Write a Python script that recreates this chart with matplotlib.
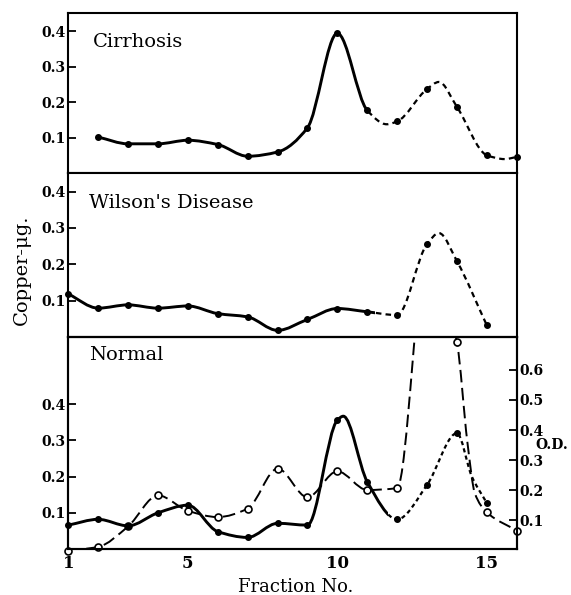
import numpy as np
import matplotlib
matplotlib.use('Agg')
import matplotlib.pyplot as plt
from matplotlib.path import Path
from matplotlib.patches import PathPatch, Rectangle

plt.rcParams['lines.scale_dashes'] = False
plt.rcParams['font.family'] = ['DejaVu Serif']

# ---------------- data ----------------
# Cirrhosis (copper, ug)
cirr_frac = [2, 3, 4, 5, 6, 7, 8, 9, 10, 11, 12, 13, 14, 15, 16]
cirr_cu = [0.102, 0.083, 0.083, 0.093, 0.081, 0.048, 0.060, 0.128, 0.394,
           0.177, 0.146, 0.237, 0.187, 0.051, 0.046]
# unmarked turning points of the drawn curve
cirr_curve_frac = [11.65, 13.4, 15.6]
cirr_curve_cu = [0.138, 0.257, 0.040]

# Wilson's disease (copper, ug)
wil_frac = [1, 2, 3, 4, 5, 6, 7, 8, 9, 10, 11, 12, 13, 14, 15]
wil_cu = [0.119, 0.080, 0.089, 0.080, 0.086, 0.065, 0.056, 0.019, 0.049,
          0.079, 0.070, 0.061, 0.256, 0.209, 0.033]
wil_curve_frac = [13.4]
wil_curve_cu = [0.286]

# Normal (copper, ug)
nor_frac = [1, 2, 3, 4, 5, 6, 7, 8, 9, 10, 11, 12, 13, 14, 15]
nor_cu = [0.066, 0.082, 0.064, 0.100, 0.121, 0.048, 0.032, 0.071, 0.066,
          0.356, 0.186, 0.082, 0.177, 0.320, 0.127]
nor_curve_frac = [10.2, 14.5]
nor_curve_cu = [0.367, 0.200]

# Normal (optical density)
od_frac = [1, 2, 3, 4, 5, 6, 7, 8, 9, 10, 11, 12, 14, 15, 16]
od_val = [0.000, 0.012, 0.080, 0.183, 0.132, 0.111, 0.139, 0.272, 0.177,
          0.263, 0.201, 0.207, 0.692, 0.127, 0.066]
od_curve_frac = [13.0, 14.35, 14.6]      # 13.0 is off scale (curve leaves the top)
od_curve_val = [1.0, 0.36, 0.19]

cu_ticks = [0.1, 0.2, 0.3, 0.4]
cu_tick_labels = ['0.1', '0.2', '0.3', '0.4']
od_ticks = [0.1, 0.2, 0.3, 0.4, 0.5, 0.6]
od_tick_labels = ['0.1', '0.2', '0.3', '0.4', '0.5', '0.6']
x_ticks = [1, 5, 10, 15]
x_tick_labels = ['1', '5', '10', '15']
panel_names = ['Cirrhosis', "Wilson's Disease", 'Normal']


# ---------------- helpers ----------------
def smooth_path(xs, ys):
    """Monotone cubic (Bezier) path through the given vertices."""
    order = np.argsort(xs)
    x = np.asarray(xs, float)[order]
    y = np.asarray(ys, float)[order]
    h = np.diff(x)
    d = np.diff(y) / h
    n = len(x)
    m = np.zeros(n)
    m[0] = d[0]
    m[-1] = d[-1]
    for i in range(1, n - 1):
        if d[i - 1] * d[i] <= 0:
            m[i] = 0.0
        else:
            w1 = 2 * h[i] + h[i - 1]
            w2 = h[i] + 2 * h[i - 1]
            m[i] = (w1 + w2) / (w1 / d[i - 1] + w2 / d[i])
    verts = [(x[0], y[0])]
    codes = [Path.MOVETO]
    for i in range(n - 1):
        verts += [(x[i] + h[i] / 3, y[i] + m[i] * h[i] / 3),
                  (x[i + 1] - h[i] / 3, y[i + 1] - m[i + 1] * h[i] / 3),
                  (x[i + 1], y[i + 1])]
        codes += [Path.CURVE4] * 3
    return Path(verts, codes)


def draw_curve(ax, path, xmin, xmax, lw, ls):
    patch = PathPatch(path, fill=False, lw=lw, ls=ls, edgecolor='black',
                      capstyle='butt', joinstyle='round', zorder=2)
    ax.add_patch(patch)
    x0, x1 = ax.get_xlim()
    y0, y1 = ax.get_ylim()
    xmin = max(xmin, x0)
    xmax = min(xmax, x1)
    clip = Rectangle((xmin, y0), xmax - xmin, y1 - y0, transform=ax.transData)
    patch.set_clip_path(clip)


SOLID_LW = 2.1
DASH = (0, (4.0, 3.0))
DOT = (0, (3.0, 2.4))
LONG = (0, (9.0, 4.0))

fig = plt.figure(figsize=(5.71, 5.95), dpi=100)
left, width = 0.1196, 0.7853
ax1 = fig.add_axes([left, 0.7087, width, 0.2689])
ax2 = fig.add_axes([left, 0.4331, width, 0.2756])
ax3 = fig.add_axes([left, 0.0773, width, 0.3558])

for ax in (ax1, ax2, ax3):
    ax.set_xlim(1, 16)
    for sp in ax.spines.values():
        sp.set_linewidth(1.5)
    ax.set_yticks(cu_ticks)
    ax.set_yticklabels(cu_tick_labels, fontsize=10, fontweight='bold')
    ax.tick_params(axis='y', direction='in', length=6, width=1.3, pad=2)
    ax.set_xticks([])

ax1.set_ylim(0, 0.45)
ax2.set_ylim(0, 0.45)
ax3.set_ylim(0, 0.585)

# Cirrhosis
p = smooth_path(cirr_frac + cirr_curve_frac, cirr_cu + cirr_curve_cu)
draw_curve(ax1, p, 0, 11, SOLID_LW, '-')
draw_curve(ax1, p, 11, 17, 1.6, DASH)
ax1.plot(cirr_frac, cirr_cu, 'o', color='black', ms=4, zorder=3, clip_on=False)

# Wilson's
p = smooth_path(wil_frac + wil_curve_frac, wil_cu + wil_curve_cu)
draw_curve(ax2, p, 0, 11.25, SOLID_LW, '-')
draw_curve(ax2, p, 11.25, 17, 1.6, DASH)
ax2.plot(wil_frac, wil_cu, 'o', color='black', ms=4, zorder=3, clip_on=False)

# Normal
ax3r = ax3.twinx()
ax3r.set_xlim(1, 16)
ax3r.set_ylim(0.005, 0.708)
ax3r.set_yticks(od_ticks)
ax3r.set_yticklabels(od_tick_labels, fontsize=10, fontweight='bold')
ax3r.tick_params(axis='y', direction='in', length=6, width=1.3, pad=2)
for sp in ax3r.spines.values():
    sp.set_linewidth(1.5)

p = smooth_path(od_frac + od_curve_frac, od_val + od_curve_val)
draw_curve(ax3r, p, 0, 17, 1.4, LONG)
ax3r.plot(od_frac, od_val, 'o', mfc='white', mec='black', mew=1.2, ms=5,
          zorder=3, clip_on=False)

p = smooth_path(nor_frac + nor_curve_frac, nor_cu + nor_curve_cu)
draw_curve(ax3, p, 0, 11.7, SOLID_LW, '-')
draw_curve(ax3, p, 11.7, 17, 1.6, DOT)
ax3.set_zorder(ax3r.get_zorder() + 1)
ax3.patch.set_visible(False)
ax3.plot(nor_frac, nor_cu, 'o', color='black', ms=4, zorder=3, clip_on=False)

ax3.set_xticks(x_ticks)
ax3.set_xticklabels(x_tick_labels, fontsize=12, fontweight='bold')
ax3.tick_params(axis='x', length=0, pad=4)

for ax, name, xx, yy in zip((ax1, ax2, ax3), panel_names,
                            (0.055, 0.046, 0.046), (0.82, 0.82, 0.918)):
    ax.text(xx, yy, name, transform=ax.transAxes, fontsize=14,
            va='center', ha='left')

fig.text(0.038, 0.546, 'Copper-\u03bcg.', rotation=90, ha='center',
         va='center', fontsize=14)
fig.text(0.517, 0.014, 'Fraction No.', ha='center', va='center', fontsize=13)
fig.text(0.995, 0.252, 'O.D.', ha='right', va='center', fontsize=10,
         fontweight='bold')

fig.savefig('out.png', dpi=100)
